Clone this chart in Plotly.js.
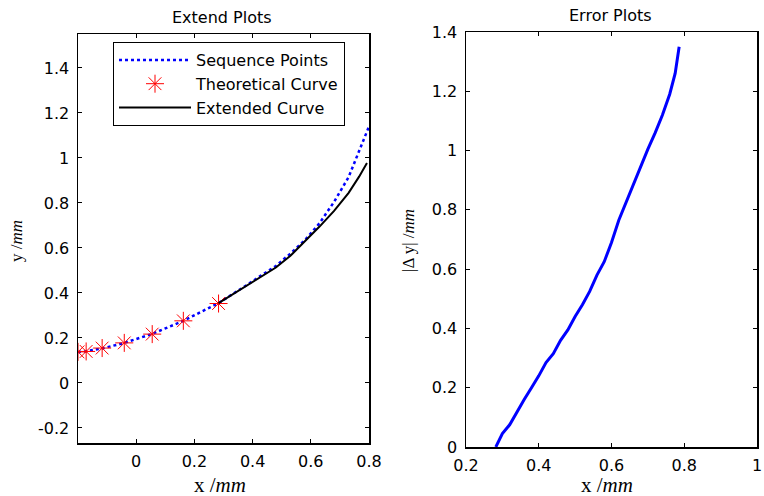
<!DOCTYPE html>
<html>
<head>
<meta charset="utf-8">
<script src="https://cdn.plot.ly/plotly-3.0.1.min.js"></script>
<style>html,body{margin:0;padding:0;background:#fff;}#chart{width:764px;height:496px;}</style>
</head>
<body>
<div id="chart"></div>
<script>
// Left panel: Extend Plots
var seqX = [-0.2, -0.172, -0.117, -0.041, 0.055, 0.162, 0.283, 0.33, 0.38, 0.43, 0.48, 0.53, 0.58, 0.63, 0.68, 0.73, 0.772, 0.80];
var seqY = [0.138, 0.141, 0.153, 0.178, 0.218, 0.276, 0.355, 0.393, 0.435, 0.478, 0.52, 0.575, 0.635, 0.71, 0.805, 0.915, 1.05, 1.14];
var theoX = [-0.2, -0.172, -0.117, -0.041, 0.055, 0.162, 0.283];
var theoY = [0.138, 0.140, 0.155, 0.178, 0.217, 0.276, 0.353];
var extX = [0.283, 0.33, 0.38, 0.43, 0.48, 0.53, 0.58, 0.63, 0.68, 0.73, 0.766, 0.793];
var extY = [0.355, 0.392, 0.432, 0.472, 0.513, 0.565, 0.628, 0.695, 0.765, 0.845, 0.917, 0.978];
// Right panel: Error Plots
var errX = [0.282, 0.30, 0.32, 0.34, 0.36, 0.38, 0.40, 0.42, 0.44, 0.46, 0.48, 0.50, 0.52, 0.54, 0.56, 0.58, 0.60, 0.62, 0.64, 0.66, 0.68, 0.70, 0.72, 0.74, 0.76, 0.775, 0.786];
var errY = [0.0, 0.045, 0.075, 0.12, 0.16, 0.2, 0.24, 0.285, 0.315, 0.36, 0.395, 0.44, 0.48, 0.525, 0.58, 0.625, 0.69, 0.765, 0.825, 0.89, 0.945, 1.005, 1.06, 1.12, 1.19, 1.26, 1.35];

var leftXTicks = [0, 0.2, 0.4, 0.6, 0.8];
var leftXText = ['0', '0.2', '0.4', '0.6', '0.8'];
var leftYTicks = [-0.2, 0, 0.2, 0.4, 0.6, 0.8, 1.0, 1.2, 1.4];
var leftYText = ['-0.2', '0', '0.2', '0.4', '0.6', '0.8', '1', '1.2', '1.4'];
var rightXTicks = [0.2, 0.4, 0.6, 0.8, 1.0];
var rightXText = ['0.2', '0.4', '0.6', '0.8', '1'];
var rightYTicks = [0, 0.2, 0.4, 0.6, 0.8, 1.0, 1.2, 1.4];
var rightYText = ['0', '0.2', '0.4', '0.6', '0.8', '1', '1.2', '1.4'];

var sans = 'DejaVu Sans, Arial, sans-serif';
var serif = 'Liberation Serif, Times New Roman, serif';

var traces = [
  {x: seqX, y: seqY, xaxis: 'x', yaxis: 'y', mode: 'lines', name: 'Sequence Points',
   line: {color: '#0000ff', width: 2.5, dash: 'dot'}},
  {x: theoX, y: theoY, xaxis: 'x', yaxis: 'y', mode: 'markers', name: 'Theoretical Curve',
   marker: {symbol: 'asterisk-open', size: 15, color: '#ff0000', line: {color: '#ff0000', width: 1}}},
  {x: extX, y: extY, xaxis: 'x', yaxis: 'y', mode: 'lines', name: 'Extended Curve',
   line: {color: '#000000', width: 2}},
  {x: errX, y: errY, xaxis: 'x2', yaxis: 'y2', mode: 'lines', showlegend: false,
   line: {color: '#0000ff', width: 3}}
];

function axis(extra) {
  var base = {showgrid: false, zeroline: false, showline: true, linecolor: '#000', linewidth: 1.5,
    mirror: 'ticks', ticks: 'inside', ticklen: 4, tickcolor: '#000', tickwidth: 1,
    tickfont: {family: sans, size: 16, color: '#000'}, tickmode: 'array', fixedrange: true};
  for (var k in extra) base[k] = extra[k];
  return base;
}

var layout = {
  width: 764, height: 496,
  margin: {l: 0, r: 0, t: 0, b: 0, autoexpand: false},
  paper_bgcolor: '#fff', plot_bgcolor: '#fff',
  showlegend: true,
  legend: {x: 113/764, xanchor: 'left', y: 1 - 42/496, yanchor: 'top',
    bgcolor: '#fff', bordercolor: '#000', borderwidth: 1,
    font: {family: sans, size: 16, color: '#000'}, itemwidth: 72, tracegroupgap: 0},
  xaxis: axis({domain: [78/764, 369/764], range: [-0.2, 0.8], tickvals: leftXTicks, ticktext: leftXText, anchor: 'y', ticklabelstandoff: 3}),
  yaxis: axis({domain: [1 - 443/496, 1 - 34/496], range: [-0.267, 1.551], tickvals: leftYTicks, ticktext: leftYText, anchor: 'x', ticklabelstandoff: 4}),
  xaxis2: axis({domain: [466/764, 757/764], range: [0.2, 1.0], tickvals: rightXTicks, ticktext: rightXText, anchor: 'y2', ticklabelstandoff: 3}),
  yaxis2: axis({domain: [1 - 447/496, 1 - 32/496], range: [0, 1.4], tickvals: rightYTicks, ticktext: rightYText, anchor: 'x2', ticklabelstandoff: 4}),
  annotations: [
    {text: 'Extend Plots', x: 222/764, y: 1 - 17/496, xref: 'paper', yref: 'paper', showarrow: false,
     xanchor: 'center', yanchor: 'middle', font: {family: sans, size: 16, color: '#000'}},
    {text: 'Error Plots', x: 610/764, y: 1 - 15/496, xref: 'paper', yref: 'paper', showarrow: false,
     xanchor: 'center', yanchor: 'middle', font: {family: sans, size: 16, color: '#000'}},
    {text: 'x /<i>mm</i>', x: 220/764, y: 1 - 485/496, xref: 'paper', yref: 'paper', showarrow: false,
     xanchor: 'center', yanchor: 'middle', font: {family: serif, size: 21, color: '#000'}},
    {text: 'x /<i>mm</i>', x: 607/764, y: 1 - 485/496, xref: 'paper', yref: 'paper', showarrow: false,
     xanchor: 'center', yanchor: 'middle', font: {family: serif, size: 21, color: '#000'}},
    {text: 'y /<i>mm</i>', x: 17/764, y: 1 - 241/496, xref: 'paper', yref: 'paper', showarrow: false,
     textangle: -90, xanchor: 'center', yanchor: 'middle', font: {family: serif, size: 17, color: '#000'}},
    {text: '|Δ y| /<i>mm</i>', x: 409/764, y: 1 - 241/496, xref: 'paper', yref: 'paper', showarrow: false,
     textangle: -90, xanchor: 'center', yanchor: 'middle', font: {family: serif, size: 17, color: '#000'}}
  ]
};

Plotly.newPlot('chart', traces, layout, {staticPlot: true, displayModeBar: false});
</script>
</body>
</html>
